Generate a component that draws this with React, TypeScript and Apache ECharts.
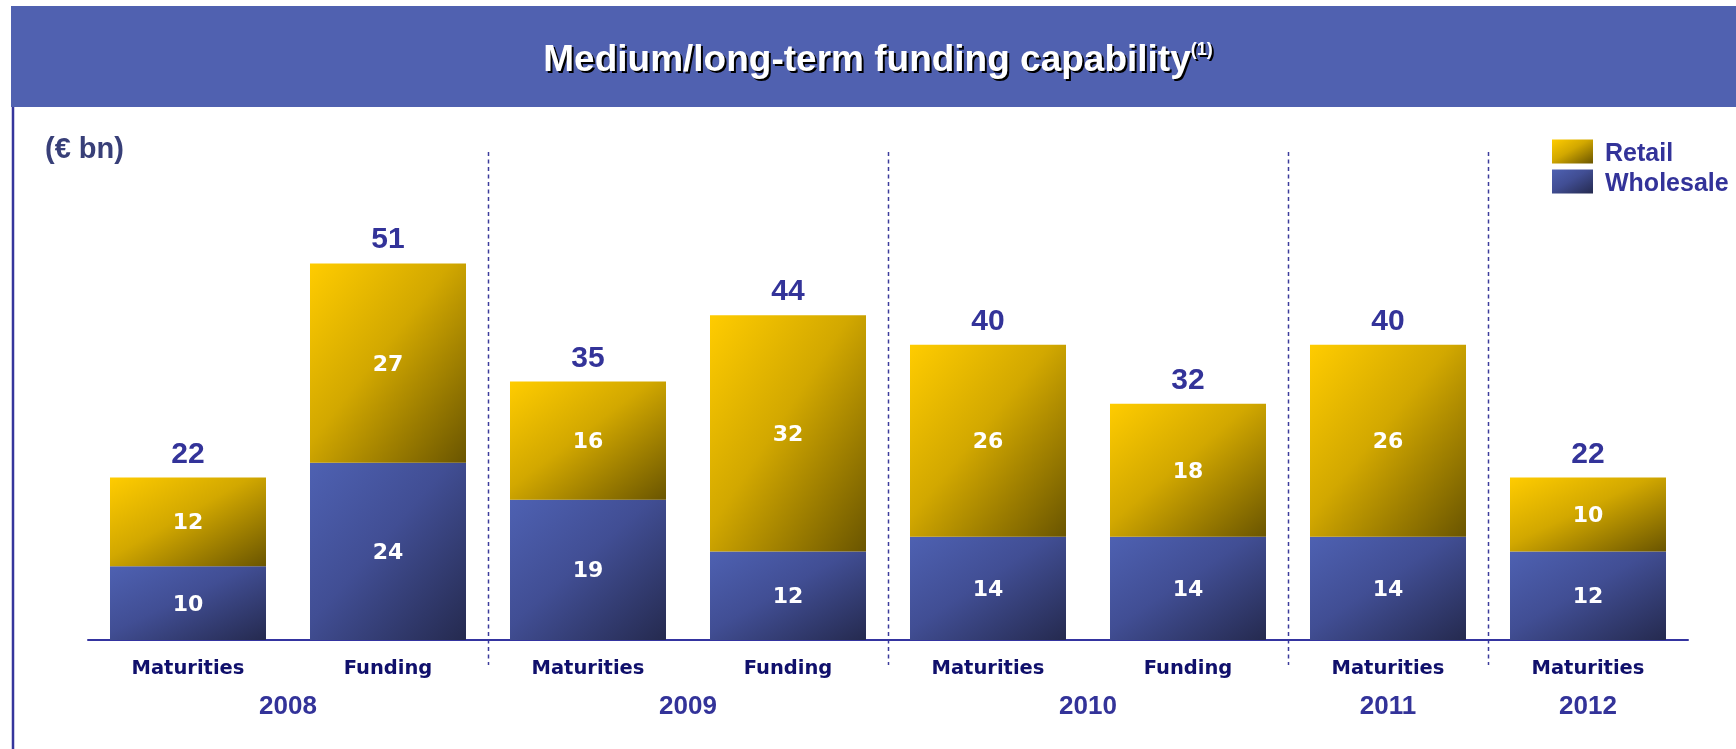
import React, { useEffect, useRef } from "react";
import * as echarts from "echarts";

// ---- data ----
const categories = ["Maturities", "Funding", "Maturities", "Funding", "Maturities", "Funding", "Maturities", "Maturities"];
const categoryYears = ["2008", "2008", "2009", "2009", "2010", "2010", "2011", "2012"];
const wholesale = [10, 24, 19, 12, 14, 14, 14, 12];
const retail = [12, 27, 16, 32, 26, 18, 26, 10];
const totals = [22, 51, 35, 44, 40, 32, 40, 22];
const seriesNames = ["Retail", "Wholesale"];
const titleText = "Medium/long-term funding capability";
const titleNote = "(1)";
const unitText = "(€ bn)";

const ARIAL = "'Liberation Sans', Arial, sans-serif";
const VERDANA = "'DejaVu Sans', Verdana, sans-serif";
const NAVY = "#333399";

export default function App() {
  const ref = useRef<HTMLDivElement>(null);

  useEffect(() => {
    document.body.style.margin = "0";
    const chart = echarts.init(ref.current as HTMLDivElement, null, { renderer: "svg" });
    const keys = categories.map((c, i) => `${categoryYears[i]}|${c}|${i}`);

    const retailGrad = new echarts.graphic.LinearGradient(0, 0, 1, 1, [
      { offset: 0, color: "#ffcc00" },
      { offset: 0.45, color: "#d2a800" },
      { offset: 1, color: "#6a5500" },
    ]);
    const wholesaleGrad = new echarts.graphic.LinearGradient(0, 0, 1, 1, [
      { offset: 0, color: "#4e61b2" },
      { offset: 0.45, color: "#414e94" },
      { offset: 1, color: "#252a4f" },
    ]);

    const innerLabel = {
      show: true,
      position: "inside",
      color: "#ffffff",
      fontFamily: VERDANA,
      fontWeight: "bold",
      fontSize: 22,
    };

    chart.setOption({
      animation: false,
      grid: { left: 88, right: 48, top: 197, bottom: 109, containLabel: false },
      legend: {
        data: seriesNames,
        orient: "vertical",
        left: 1552,
        top: 139,
        padding: 0,
        itemWidth: 41,
        itemHeight: 24,
        itemGap: 5,
        icon: "rect",
        textStyle: {
          fontFamily: ARIAL,
          fontWeight: "bold",
          fontSize: 25,
          color: NAVY,
          lineHeight: 24,
          padding: [0, 0, 0, 7],
        },
      },
      xAxis: {
        type: "category",
        data: keys,
        axisTick: { show: false },
        axisLine: { lineStyle: { color: "#3434a0", width: 2 } },
        axisLabel: {
          margin: 17,
          interval: 0,
          formatter: (v: string) => v.split("|")[1],
          fontFamily: VERDANA,
          fontWeight: "bold",
          fontSize: 19.5,
          color: "#10106c",
        },
      },
      yAxis: { type: "value", min: 0, max: 60, show: false, splitLine: { show: false } },
      series: [
        {
          name: "Wholesale",
          type: "bar",
          stack: "total",
          barWidth: 156,
          data: wholesale,
          itemStyle: { color: wholesaleGrad },
          label: innerLabel,
        },
        {
          name: "Retail",
          type: "bar",
          stack: "total",
          barWidth: 156,
          data: retail,
          itemStyle: { color: retailGrad },
          label: innerLabel,
        },
        {
          name: "Total",
          type: "scatter",
          data: totals,
          symbolSize: 1,
          silent: true,
          itemStyle: { color: "rgba(0,0,0,0)", opacity: 1 },
          label: {
            show: true,
            position: "top",
            distance: 10,
            opacity: 1,
            fontFamily: ARIAL,
            fontWeight: "bold",
            fontSize: 30,
            color: NAVY,
          },
        },
      ],
    });

    const px = (i: number) => chart.convertToPixel({ xAxisIndex: 0 }, keys[i]) as number;

    // year groups from categoryYears
    const groups: { year: string; first: number; last: number }[] = [];
    categoryYears.forEach((y, i) => {
      const g = groups[groups.length - 1];
      if (g && g.year === y) g.last = i;
      else groups.push({ year: y, first: i, last: i });
    });

    const titleStyle = (fill: string) => ({
      text: `{m|${titleText}}{s|${titleNote}}`,
      align: "center",
      verticalAlign: "middle",
      fill,
      rich: {
        m: { fontFamily: ARIAL, fontWeight: "bold", fontSize: 37, fill },
        s: { fontFamily: ARIAL, fontWeight: "bold", fontSize: 18, fill, verticalAlign: "top" },
      },
    });

    const graphics: any[] = [
      {
        type: "rect",
        shape: { x: 11, y: 6, width: 1725, height: 101 },
        style: { fill: "#5061b0" },
        silent: true,
      },
      { type: "text", x: 880, y: 60, silent: true, style: titleStyle("#000000") },
      { type: "text", x: 878, y: 58, style: titleStyle("#ffffff") },
      {
        type: "line",
        shape: { x1: 13, y1: 107, x2: 13, y2: 749 },
        style: { stroke: "#35359c", lineWidth: 2.5 },
        silent: true,
      },
      {
        type: "text",
        x: 45,
        y: 148,
        style: {
          text: unitText,
          fontFamily: ARIAL,
          fontWeight: "bold",
          fontSize: 29,
          fill: "#383f78",
          verticalAlign: "middle",
        },
      },
    ];

    groups.forEach((g, gi) => {
      const cx = (px(g.first) + px(g.last)) / 2;
      graphics.push({
        type: "text",
        x: cx,
        y: 705,
        style: {
          text: g.year,
          align: "center",
          verticalAlign: "middle",
          fontFamily: ARIAL,
          fontWeight: "bold",
          fontSize: 26,
          fill: NAVY,
        },
      });
      if (gi < groups.length - 1) {
        const sx = Math.round((px(g.last) + px(groups[gi + 1].first)) / 2) + 0.5;
        graphics.push({
          type: "line",
          shape: { x1: sx, y1: 152, x2: sx, y2: 665 },
          style: { stroke: "#3c3c9c", lineWidth: 1.5, lineDash: [4, 3.5] },
          silent: true,
        });
      }
    });

    chart.setOption({ graphic: graphics });

    return () => chart.dispose();
  }, []);

  return <div ref={ref} style={{ position: "fixed", left: 0, top: 0, width: 1736, height: 749 }} />;
}
